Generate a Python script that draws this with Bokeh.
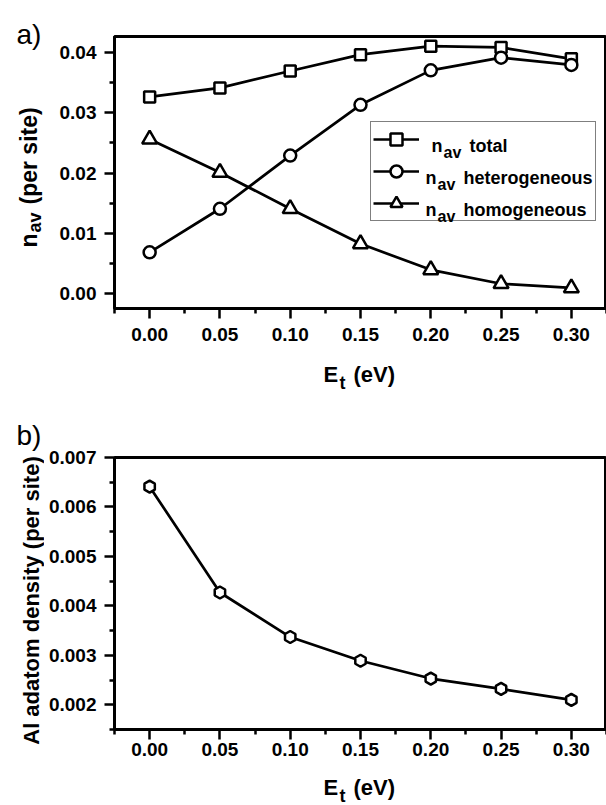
import math

from bokeh.core.properties import value
from bokeh.embed import file_html
from bokeh.layouts import column, row
from bokeh.models import (FixedTicker, Label, Legend, LegendItem,
                          PrintfTickFormatter, Range1d)
from bokeh.plotting import figure
from bokeh.resources import INLINE

# ---- data -------------------------------------------------------------
energy = [0.00, 0.05, 0.10, 0.15, 0.20, 0.25, 0.30]          # E_t (eV)

n_total = [0.0326, 0.0341, 0.0369, 0.0396, 0.0410, 0.0408, 0.0389]
n_hetero = [0.0069, 0.0141, 0.0229, 0.0313, 0.0370, 0.0391, 0.0379]
n_homo = [0.0256, 0.0201, 0.0141, 0.0083, 0.0040, 0.0017, 0.0010]

al_density = [0.00641, 0.00427, 0.00337, 0.00289, 0.00253, 0.00232, 0.00210]

x_ticks = [0.00, 0.05, 0.10, 0.15, 0.20, 0.25, 0.30]
x_minor = [-0.025, 0.025, 0.075, 0.125, 0.175, 0.225, 0.275, 0.325]
a_y_ticks = [0.00, 0.01, 0.02, 0.03, 0.04]
a_y_minor = [-0.005, 0.005, 0.015, 0.025, 0.035]
b_y_ticks = [0.002, 0.003, 0.004, 0.005, 0.006, 0.007]
b_y_minor = [0.0015, 0.0025, 0.0035, 0.0045, 0.0055, 0.0065]

legend_names = ["total", "heterogeneous", "homogeneous"]

# ---- styling ----------------------------------------------------------
FONT = "Liberation Sans"
SIDE_W = 44          # strip on the left holding panel letter and y title
MAIN_W = 562
AXIS_W = 70          # room for y ticks and tick labels
FRAME_W = MAIN_W - AXIS_W
FRAME_H = 272
LINE_W = 2.7
MARK_W = 2.5


def main_fig(height, top, bottom, y_range, y_ticks, y_minor, y_fmt, standoff):
    p = figure(width=MAIN_W, height=height, output_backend="svg",
               toolbar_location=None,
               x_range=Range1d(-0.025, 0.325), y_range=Range1d(*y_range),
               min_border_left=AXIS_W, min_border_right=0,
               min_border_top=top, min_border_bottom=bottom)
    p.grid.visible = False
    p.outline_line_color = "black"
    p.outline_line_width = 3
    p.outline_line_alpha = 1.0
    p.background_fill_color = "white"
    p.border_fill_color = "white"
    for ax in (p.xaxis[0], p.yaxis[0]):
        ax.axis_line_width = 3
        ax.axis_line_color = "black"
        ax.major_tick_out = 10
        ax.major_tick_in = 0
        ax.minor_tick_out = 5
        ax.minor_tick_in = 0
        ax.major_tick_line_width = 2.5
        ax.minor_tick_line_width = 2.5
        ax.major_tick_line_color = "black"
        ax.minor_tick_line_color = "black"
        ax.major_label_text_font = FONT
        ax.major_label_text_font_size = "19px"
        ax.major_label_text_font_style = "bold"
        ax.major_label_text_color = "black"
    p.xaxis[0].ticker = FixedTicker(ticks=x_ticks, minor_ticks=x_minor)
    p.xaxis[0].formatter = PrintfTickFormatter(format="%.2f")
    p.xaxis[0].major_label_standoff = standoff
    p.yaxis[0].ticker = FixedTicker(ticks=y_ticks, minor_ticks=y_minor)
    p.yaxis[0].formatter = PrintfTickFormatter(format=y_fmt)
    p.yaxis[0].major_label_standoff = 8
    return p


def text_fig(width, height, left=0):
    # pixel-scaled canvas used only for titles that sit outside a frame
    f = figure(width=width, height=height, output_backend="svg",
               toolbar_location=None,
               x_range=Range1d(0, width - left), y_range=Range1d(0, height),
               x_axis_type=None, y_axis_type=None,
               min_border_left=left, min_border_right=0,
               min_border_top=0, min_border_bottom=0)
    f.outline_line_color = None
    f.background_fill_color = "white"
    f.border_fill_color = "white"
    return f


def put(f, x, y, text, size, bold=True, angle=0.0, align="left"):
    f.text(x=[x], y=[y], text=[text], angle=angle,
           text_font=value(FONT), text_font_size=f"{size}px",
           text_font_style="bold" if bold else "normal",
           text_color="black", text_align=align, text_baseline="alphabetic")


def label(p, x, y, text, size):
    p.add_layout(Label(x=x, y=y, x_units="screen", y_units="screen",
                       text=text, text_font=FONT, text_font_size=f"{size}px",
                       text_font_style="bold", text_color="black",
                       text_align="left", text_baseline="alphabetic"))


def series(p, ys, marker, size, angle=0.0):
    ln = p.line(energy, ys, line_color="black", line_width=LINE_W)
    sc = p.scatter(energy, ys, marker=marker, size=size, angle=angle,
                   fill_color="white", line_color="black", line_width=MARK_W)
    return ln, sc


def x_title(f, base):
    # x measured from the frame's left edge
    put(f, 209, base, "E", 22)
    put(f, 225, base - 8, "t", 18)
    put(f, 239, base, "(eV)", 22)


# ---- panel a ----------------------------------------------------------
A_H, A_MAIN = 400, 350
pa = main_fig(A_MAIN, 36, A_MAIN - 36 - FRAME_H, (-0.0024, 0.0426),
              a_y_ticks, a_y_minor, "%.2f", 9)

r_tot = series(pa, n_total, "square", 11)
r_het = series(pa, n_hetero, "circle", 12)
r_hom = series(pa, n_homo, "triangle", 15)

legend = Legend(items=[LegendItem(label=" ", renderers=list(r))
                       for r in (r_tot, r_het, r_hom)],
                location=(256, 87), margin=0, padding=2, spacing=2,
                glyph_width=46, glyph_height=30, label_height=30,
                label_width=169, label_standoff=5,
                label_text_font_size="12px",
                border_line_color="black", border_line_width=1.2,
                background_fill_alpha=0.0)
pa.add_layout(legend)

# legend texts: n with subscript av, then the series name
# (frame-relative pixels: x from frame left, y up from frame bottom)
for i, name in enumerate(legend_names):
    row_y = 140 + 32 * i - 36          # row centre below frame top
    nx = 317 if i == 0 else 311
    label(pa, nx, FRAME_H - (row_y + 5), "n", 18)
    label(pa, nx + 12, FRAME_H - (row_y + 12), "av", 16)
    label(pa, nx + 38, FRAME_H - (row_y + 5), name, 18)

side_a = text_fig(SIDE_W, A_H)
put(side_a, 16, A_H - 34, "a)", 28, bold=False)
put(side_a, 28, A_H - 247, "n", 23, angle=math.pi / 2)
put(side_a, 34, A_H - 232, "av", 18, angle=math.pi / 2)
put(side_a, 28, A_H - 204, "(per site)", 23, angle=math.pi / 2)

foot_a = text_fig(MAIN_W, A_H - A_MAIN, left=AXIS_W)
x_title(foot_a, (A_H - A_MAIN) - 24)

panel_a = row(side_a, column(pa, foot_a, spacing=0), spacing=0)

# ---- panel b ----------------------------------------------------------
B_H, B_MAIN = 405, 365
pb = main_fig(B_MAIN, 57, B_MAIN - 57 - FRAME_H, (0.0015, 0.007),
              b_y_ticks, b_y_minor, "%.3f", 3)
series(pb, al_density, "hex", 12, angle=math.pi / 6)

side_b = text_fig(SIDE_W, B_H)
put(side_b, 16, B_H - 35, "b)", 28, bold=False)
put(side_b, 31, B_H - 200, "Al adatom density (per site)", 22,
    angle=math.pi / 2, align="center")

foot_b = text_fig(MAIN_W, B_H - B_MAIN, left=AXIS_W)
x_title(foot_b, (B_H - B_MAIN) - 22)

panel_b = row(side_b, column(pb, foot_b, spacing=0), spacing=0)

page = column(panel_a, panel_b, spacing=0)
open("out.html", "w").write(file_html(page, INLINE))
